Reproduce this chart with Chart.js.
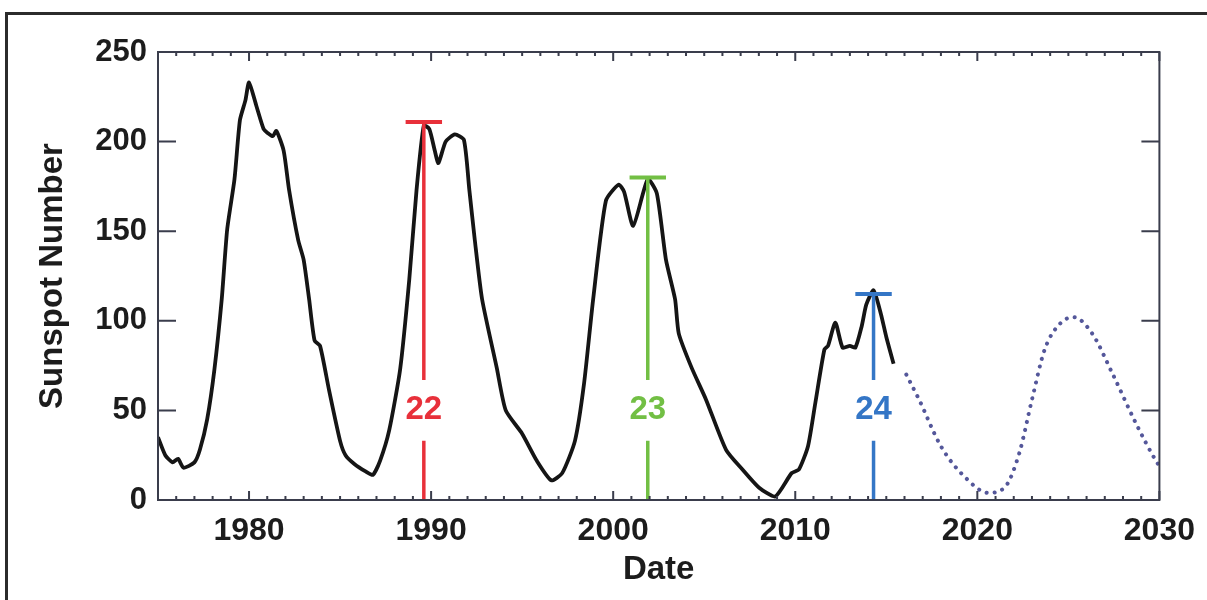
<!DOCTYPE html>
<html>
<head>
<meta charset="utf-8">
<script src="https://cdn.jsdelivr.net/npm/chart.js@4.4.1/dist/chart.umd.min.js"></script>
<style>
body { margin: 0; background: #fff; overflow: hidden; width: 1207px; height: 600px; position: relative; }
#frame { position: absolute; left: 5px; top: 12px; width: 1300px; height: 700px; border: 3px solid #2b2b2b; pointer-events: none; }
canvas { position: absolute; left: 0; top: 0; }
</style>
</head>
<body>
<canvas id="chart" width="1207" height="600"></canvas>
<div id="frame"></div>
<script>
// observed smoothed sunspot number
const obsYears = [1975.0, 1975.4, 1975.8, 1976.1, 1976.4, 1977.0, 1977.3, 1977.7, 1978.1, 1978.5, 1978.8, 1979.2, 1979.5, 1979.8, 1980.0,
  1980.4, 1980.8, 1981.0, 1981.3, 1981.5, 1981.9, 1982.2, 1982.7, 1983.0, 1983.3, 1983.6, 1983.9, 1984.4, 1985.0, 1985.3, 1985.8,
  1986.4, 1986.8, 1987.2, 1987.7, 1988.3, 1988.8, 1989.2, 1989.6, 1989.9, 1990.2, 1990.4, 1990.8, 1991.3, 1991.8, 1992.1, 1992.4,
  1992.8, 1993.6, 1994.1, 1995.0, 1995.8, 1996.6, 1997.2, 1997.9, 1998.4, 1998.9, 1999.6, 2000.3, 2000.6, 2001.1, 2001.9, 2002.4,
  2002.9, 2003.4, 2003.6, 2004.3, 2005.1, 2006.2, 2007.1, 2008.0, 2008.9, 2009.8, 2010.2, 2010.7, 2011.1, 2011.6, 2011.8, 2012.2,
  2012.6, 2013.0, 2013.3, 2013.65, 2013.9, 2014.3, 2014.7, 2015.0, 2015.4];
const obsSunspots = [35, 25, 21, 23, 18, 21, 28, 45, 73, 112, 151, 179, 212, 223, 233,
  220, 207, 205, 203, 206, 195, 173, 145, 134, 112, 89, 86, 61, 33, 25, 20,
  16, 14, 22, 39, 73, 123, 173, 209, 207, 195, 188, 200, 204, 201, 173, 145,
  112, 74, 50, 37, 22, 11, 15, 33, 65, 112, 167, 176, 172, 153, 179, 171,
  134, 112, 93, 74, 56, 28, 17, 7, 2, 15, 17, 30, 54, 84, 86, 99,
  85, 86, 85, 97, 109, 117, 104, 91, 76];

// predicted next cycle (dotted)
const predYears = [2016.1, 2016.8, 2018.0, 2019.3, 2020.6, 2021.5, 2022.3, 2023.0, 2023.7, 2024.6, 2025.3, 2026.3, 2027.4, 2028.7, 2029.8, 2030.0];
const predSunspots = [70, 56, 30, 13, 4, 7, 26, 56, 84, 99, 102, 93, 71, 43, 22, 19];

// cycle maxima markers
const cycleNames = ['22', '23', '24'];
const cycleYears = [1989.6, 2001.9, 2014.3];
const cyclePeaks = [211, 180, 115];
const cycleColors = ['#e8303a', '#72bf44', '#3476c6'];

const xTickValues = [1980, 1990, 2000, 2010, 2020, 2030];
const yTickValues = [0, 50, 100, 150, 200, 250];

const labelLevel = 50;
const gapHalf = 17;
const capHalf = 1;

const datasets = [];
cycleNames.forEach((name, i) => {
  const yr = cycleYears[i];
  datasets.push({
    data: [{x: yr, y: 0}, {x: yr, y: labelLevel - gapHalf}, {x: yr, y: null}, {x: yr, y: labelLevel + gapHalf}, {x: yr, y: cyclePeaks[i]}],
    borderColor: cycleColors[i], borderWidth: 3.5, pointRadius: 0, spanGaps: false
  });
  datasets.push({
    data: [{x: yr - capHalf, y: cyclePeaks[i]}, {x: yr + capHalf, y: cyclePeaks[i]}],
    borderColor: cycleColors[i], borderWidth: 4, pointRadius: 0
  });
});
datasets.push({
  data: obsYears.map((x, i) => ({x: x, y: obsSunspots[i]})),
  borderColor: '#151515', borderWidth: 3.8, pointRadius: 0, tension: 0.2
});
datasets.push({
  data: predYears.map((x, i) => ({x: x, y: predSunspots[i]})),
  borderColor: '#54579a', borderWidth: 4, borderDash: [0.1, 8], borderCapStyle: 'round',
  pointRadius: 0, cubicInterpolationMode: 'monotone'
});

const axisColor = '#3a3d4c';

const framePlugin = {
  id: 'frame',
  afterDatasetsDraw(chart) {
    const {ctx, chartArea: a, scales} = chart;
    ctx.save();
    ctx.strokeStyle = axisColor;
    ctx.lineWidth = 2;
    ctx.strokeRect(a.left, a.top, a.right - a.left, a.bottom - a.top);
    ctx.beginPath();
    yTickValues.forEach(v => {
      const y = scales.y.getPixelForValue(v);
      ctx.moveTo(a.left, y); ctx.lineTo(a.left + 18, y);
      ctx.moveTo(a.right, y); ctx.lineTo(a.right - 18, y);
    });
    for (let yr = 1975; yr <= 2030; yr++) {
      const x = scales.x.getPixelForValue(yr);
      const len = yr % 10 === 0 ? 9 : 4;
      ctx.moveTo(x, a.bottom); ctx.lineTo(x, a.bottom - len);
      ctx.moveTo(x, a.top); ctx.lineTo(x, a.top + len);
    }
    ctx.stroke();
    // cycle numbers
    ctx.font = 'bold 33px "Liberation Sans", Arial, sans-serif';
    ctx.textAlign = 'center';
    ctx.textBaseline = 'middle';
    cycleNames.forEach((name, i) => {
      ctx.fillStyle = cycleColors[i];
      ctx.fillText(name, scales.x.getPixelForValue(cycleYears[i]), scales.y.getPixelForValue(labelLevel));
    });
    ctx.restore();
  }
};

const fontFam = '"Liberation Sans", Arial, sans-serif';

new Chart(document.getElementById('chart'), {
  type: 'line',
  data: {datasets: datasets},
  options: {
    responsive: false,
    animation: false,
    layout: {padding: {left: 0, right: 45, top: 52, bottom: 0}},
    plugins: {legend: {display: false}, tooltip: {enabled: false}},
    scales: {
      x: {
        type: 'linear', min: 1975, max: 2030,
        afterBuildTicks: s => { s.ticks = xTickValues.map(v => ({value: v})); },
        afterFit: s => { s.height = 100; },
        grid: {display: false, drawTicks: false},
        border: {display: false},
        ticks: {color: '#1c1c1c', padding: 12, maxRotation: 0, autoSkip: false,
          font: {family: fontFam, size: 32, weight: 'bold'}, callback: v => String(v)},
        title: {display: true, text: 'Date', color: '#1c1c1c', padding: {top: 0, bottom: 10},
          font: {family: fontFam, size: 33, weight: 'bold'}}
      },
      y: {
        min: 0, max: 250,
        afterBuildTicks: s => { s.ticks = yTickValues.map(v => ({value: v})); },
        afterFit: s => { s.width = 158; },
        grid: {display: false, drawTicks: false},
        border: {display: false},
        ticks: {color: '#1c1c1c', padding: 11,
          font: {family: fontFam, size: 31, weight: 'bold'}, callback: v => String(v)},
        title: {display: true, text: 'Sunspot Number', color: '#1c1c1c', padding: {top: 33, bottom: 0},
          font: {family: fontFam, size: 33, weight: 'bold'}}
      }
    }
  },
  plugins: [framePlugin]
});
</script>
</body>
</html>
